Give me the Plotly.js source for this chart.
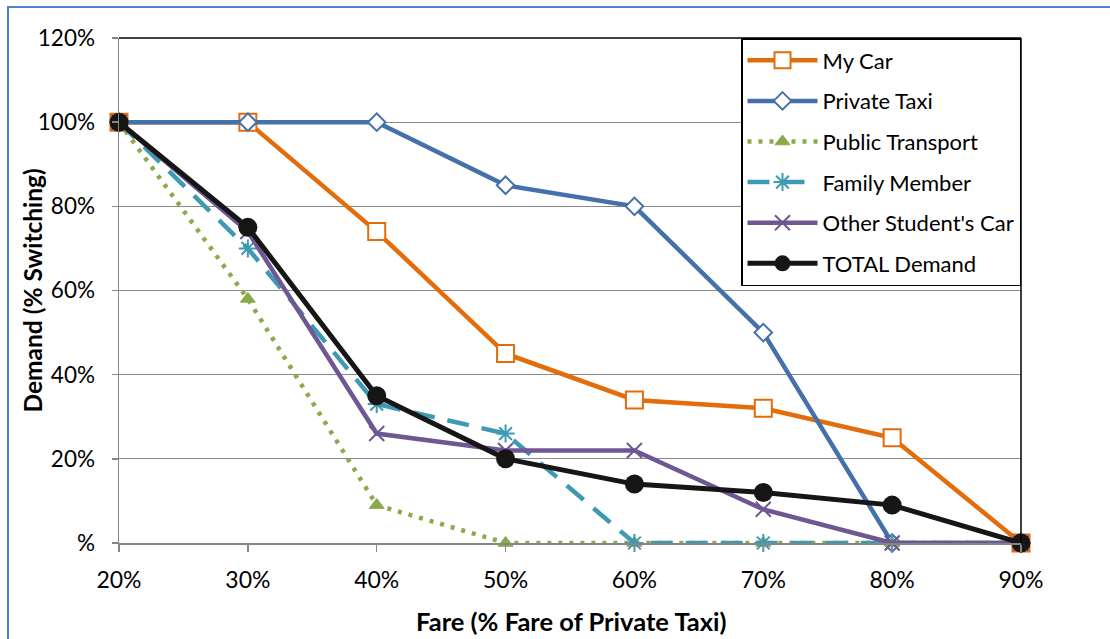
<!DOCTYPE html>
<html>
<head>
<meta charset="utf-8">
<script src="https://cdn.plot.ly/plotly-3.0.1.min.js"></script>
<style>
  html, body { margin: 0; padding: 0; background: #fff; }
  #wrap { position: relative; width: 1110px; height: 639px; overflow: hidden; }
  #chart { position: absolute; left: 0; top: 0; width: 1110px; height: 639px; }
  #frame { position: absolute; left: 7px; top: 6px; width: 1300px; height: 800px;
           border-left: 2px solid #4F81C6; border-top: 2px solid #4F81C6; pointer-events: none; }
</style>
</head>
<body>
<div id="wrap">
  <div id="chart"></div>
  <div id="frame"></div>
</div>
<script>
// Fare as % of the private taxi fare
const fare = [20, 30, 40, 50, 60, 70, 80, 90];

// Demand (% switching) per travel mode
const myCar            = [100, 100, 74, 45, 34, 32, 25, 0];
const privateTaxi      = [100, 100, 100, 85, 80, 50, 0, 0];
const publicTransport  = [100, 58, 9, 0, 0, 0, 0, 0];
const familyMember     = [100, 70, 33, 26, 0, 0, 0, 0];
const otherStudentsCar = [100, 74, 26, 22, 22, 8, 0, 0];
const totalDemand      = [100, 75, 35, 20, 14, 12, 9, 0];

// Axis ticks and titles
const yTickVals = [0, 20, 40, 60, 80, 100, 120];
const yTickText = ['%', '20%', '40%', '60%', '80%', '100%', '120%'];
const xTickText = ['20%', '30%', '40%', '50%', '60%', '70%', '80%', '90%'];
const xTitle = 'Fare (% Fare of Private Taxi)';
const yTitle = 'Demand (% Switching)';

const FONT = 'Lato, "Open Sans", sans-serif';

function series(name, y, line, marker, group) {
  return {
    type: 'scatter', mode: 'lines+markers', name: name,
    x: fare, y: y, line: line, marker: marker,
    cliponaxis: false, legendgroup: group
  };
}

const traces = [
  series('My Car', myCar,
    { color: '#E46C0A', width: 4.5 },
    { symbol: 'square', size: 17, color: '#ffffff', line: { color: '#E46C0A', width: 2 } }, 'g1'),
  series('Private Taxi', privateTaxi,
    { color: '#4471A9', width: 4.5 },
    { symbol: 'diamond', size: 13.5, color: '#ffffff', line: { color: '#4471A9', width: 2 } }, 'g2'),
  series('Public Transport', publicTransport,
    { color: '#8BAA4B', width: 4.5, dash: '4px,7px' },
    { symbol: 'triangle-up', size: 13, color: '#8BAA4B', line: { color: '#8BAA4B', width: 1 } }, 'g3'),
  series('Family Member', familyMember,
    { color: '#3E9AB3', width: 4.5, dash: '22px,13px' },
    { symbol: 'asterisk-open', size: 15, color: '#3E9AB3', line: { color: '#3E9AB3', width: 2 } }, 'g4'),
  series("Other Student's Car", otherStudentsCar,
    { color: '#6F5793', width: 4.5 },
    { symbol: 'x-thin-open', size: 15, color: '#6F5793', line: { color: '#6F5793', width: 2 } }, 'g5'),
  series('TOTAL Demand', totalDemand,
    { color: '#161616', width: 5 },
    { symbol: 'circle', size: 19, color: '#161616' }, 'g6')
];

const layout = {
  width: 1110, height: 639,
  margin: { l: 119, r: 89, t: 38, b: 96, pad: 0 },
  paper_bgcolor: '#ffffff', plot_bgcolor: '#ffffff',
  font: { family: FONT, size: 20, color: '#000' },
  showlegend: true,
  legend: {
    x: 1, xanchor: 'right', y: 1, yanchor: 'top',
    bgcolor: '#ffffff', bordercolor: '#000', borderwidth: 1.5,
    font: { family: FONT, size: 22, color: '#000' },
    tracegroupgap: 9, itemwidth: 70, traceorder: 'grouped'
  },
  xaxis: {
    range: [20, 90], tickvals: fare, ticktext: xTickText,
    showgrid: false, zeroline: false,
    showline: true, linecolor: '#858585', linewidth: 1.5,
    ticks: 'outside', ticklen: 7, tickwidth: 1.5, tickcolor: '#858585',
    ticklabelstandoff: 9,
    tickfont: { family: FONT, size: 23, color: '#000' }
  },
  yaxis: {
    range: [0, 120], tickvals: yTickVals, ticktext: yTickText,
    showgrid: true, gridcolor: '#8a8a8a', gridwidth: 1.2, zeroline: false,
    showline: true, linecolor: '#858585', linewidth: 1.5,
    ticks: 'outside', ticklen: 6, tickwidth: 1.5, tickcolor: '#858585',
    ticklabelstandoff: 12,
    tickfont: { family: FONT, size: 22.5, color: '#000' }
  },
  annotations: [
    { text: '<b>' + xTitle + '</b>', xref: 'paper', yref: 'paper', x: 0.5, y: 0,
      xanchor: 'center', yanchor: 'middle', xshift: 1, yshift: -78, showarrow: false,
      font: { family: FONT, size: 25.5, color: '#000' } },
    { text: '<b>' + yTitle + '</b>', xref: 'paper', yref: 'paper', x: 0, y: 0.5,
      xanchor: 'center', yanchor: 'middle', xshift: -87, textangle: -90, showarrow: false,
      font: { family: FONT, size: 24.5, color: '#000' } }
  ],
  shapes: [
    { type: 'line', xref: 'paper', yref: 'paper', x0: 0, x1: 1, y0: 1, y1: 1,
      line: { color: '#000', width: 1.5 } },
    { type: 'line', xref: 'paper', yref: 'paper', x0: 1, x1: 1, y0: 0, y1: 1,
      line: { color: '#000', width: 1.5 } }
  ]
};

Plotly.newPlot('chart', traces, layout, { staticPlot: true, displayModeBar: false }).then(gd => {
  // Widen the legend keys: longer line sample with the marker in its middle
  gd.querySelectorAll('.legend .traces').forEach(t => {
    t.querySelectorAll('.legendlines path').forEach(p => p.setAttribute('d', 'M5,0h70'));
    t.querySelectorAll('.legendpoints path.scatterpts').forEach(p =>
      p.setAttribute('transform', 'translate(40,0)'));
  });
});
</script>
</body>
</html>
